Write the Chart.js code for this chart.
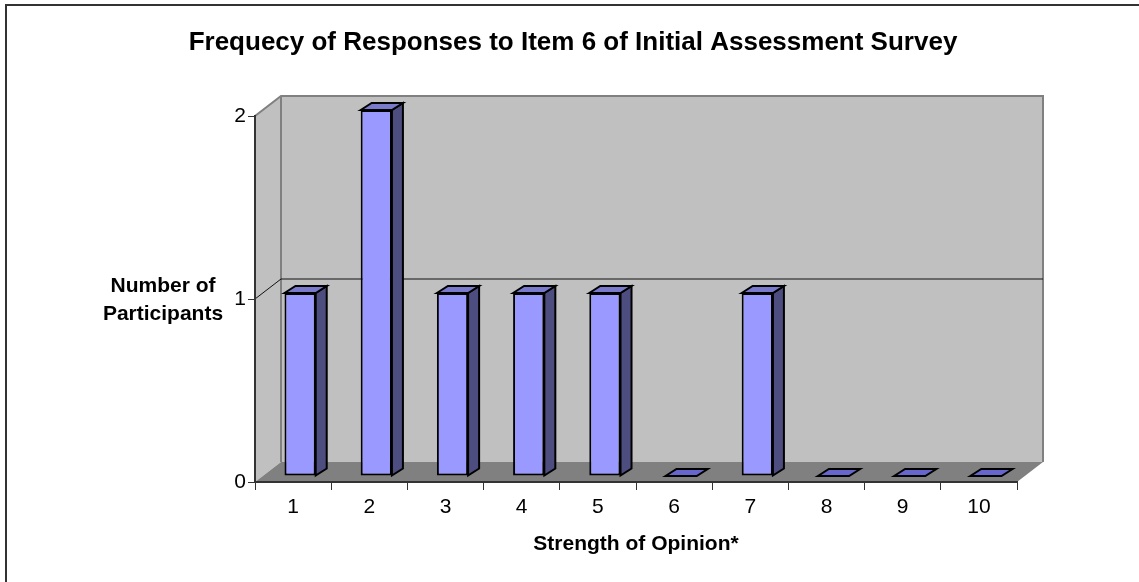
<!DOCTYPE html>
<html>
<head>
<meta charset="utf-8">
<style>
  html, body { margin: 0; padding: 0; background: #fff; }
  #wrap { width: 1139px; height: 582px; }
</style>
<script src="https://cdn.jsdelivr.net/npm/chart.js@4/dist/chart.umd.min.js"></script>
</head>
<body>
<div id="wrap"><canvas id="chart" width="1139" height="582"></canvas></div>
<script>
const categories = ["1", "2", "3", "4", "5", "6", "7", "8", "9", "10"];
const responses = [1, 2, 1, 1, 1, 0, 1, 0, 0, 0];
const yTicks = [0, 1, 2];
const chartTitle = "Frequecy of Responses to Item 6 of Initial Assessment Survey";
const xAxisTitle = "Strength of Opinion*";
const yAxisTitle = ["Number of", "Participants"];

const fontFamily = "'Liberation Sans', Arial, sans-serif";

// depth of the fake 3D box, and how far the bars sit inside it
const wallDx = 26, wallDy = -20;
const barDx = 7, barDy = -6;
const sideDx = 11, sideDy = -7;

const poly = (ctx, pts, fill, stroke, width) => {
  ctx.beginPath();
  pts.forEach((p, i) => (i ? ctx.lineTo(p[0], p[1]) : ctx.moveTo(p[0], p[1])));
  ctx.closePath();
  if (fill) {
    ctx.fillStyle = fill;
    ctx.fill();
  }
  if (stroke) {
    ctx.strokeStyle = stroke;
    ctx.lineWidth = width || 1;
    ctx.lineJoin = "miter";
    ctx.stroke();
  }
};

const box3d = {
  id: "box3d",
  beforeDraw(chart) {
    const { ctx, chartArea: a, scales } = chart;
    ctx.save();
    // outer frame, only left and top are in the picture
    ctx.strokeStyle = "#333333";
    ctx.lineWidth = 2;
    ctx.beginPath();
    ctx.moveTo(6, 582);
    ctx.lineTo(6, 5);
    ctx.lineTo(1139, 5);
    ctx.stroke();

    const L = a.left, R = a.right, T = a.top, B = a.bottom;
    // side wall, back wall, floor
    poly(ctx, [[L, B], [L, T], [L + wallDx, T + wallDy], [L + wallDx, B + wallDy]], "#c0c0c0");
    poly(ctx, [[L + wallDx, T + wallDy], [R + wallDx, T + wallDy], [R + wallDx, B + wallDy], [L + wallDx, B + wallDy]], "#c0c0c0");
    poly(ctx, [[L, B], [R, B], [R + wallDx, B + wallDy], [L + wallDx, B + wallDy]], "#808080");

    ctx.strokeStyle = "#808080";
    ctx.lineWidth = 2;
    ctx.beginPath();
    ctx.moveTo(L, T);
    ctx.lineTo(L + wallDx, T + wallDy);
    ctx.lineTo(R + wallDx, T + wallDy);
    ctx.lineTo(R + wallDx, B + wallDy);
    ctx.moveTo(L + wallDx, T + wallDy);
    ctx.lineTo(L + wallDx, B + wallDy);
    ctx.stroke();

    // gridline for the middle tick wraps round the side and back wall
    const gy = scales.y.getPixelForValue(1);
    ctx.strokeStyle = "#111111";
    ctx.lineWidth = 1;
    ctx.beginPath();
    ctx.moveTo(L, gy);
    ctx.lineTo(L + wallDx, gy + wallDy);
    ctx.lineTo(R + wallDx, gy + wallDy);
    ctx.stroke();
    ctx.restore();
  },
  beforeDatasetsDraw(chart) {
    const { ctx } = chart;
    ctx.save();
    ctx.translate(barDx, barDy);
    // sides and tops come from the bar elements themselves
    chart.getDatasetMeta(0).data.forEach((bar) => {
      const l = bar.x - bar.width / 2, r = bar.x + bar.width / 2;
      const t = bar.y, b = bar.base;
      if (t !== b) {
        poly(ctx, [[r, t], [r + sideDx, t + sideDy], [r + sideDx, b + sideDy], [r, b]], "#4d4d80", "#000", 2);
      }
      poly(ctx, [[l, t], [l + sideDx, t + sideDy], [r + sideDx, t + sideDy], [r, t]], t !== b ? "#7a7acc" : "#6666cc", "#000", 2);
    });
  },
  afterDatasetsDraw(chart) {
    const { ctx, scales } = chart;
    ctx.restore();
    ctx.save();
    ctx.fillStyle = "#000";
    ctx.textAlign = "center";
    ctx.textBaseline = "alphabetic";
    ctx.font = "bold 26px " + fontFamily;
    ctx.fillText(chartTitle, 573, 50);
    ctx.font = "bold 21px " + fontFamily;
    const gy = scales.y.getPixelForValue(1);
    ctx.fillText(yAxisTitle[0], 163, gy - 7);
    ctx.fillText(yAxisTitle[1], 163, gy + 21);
    ctx.restore();
  },
};

new Chart(document.getElementById("chart"), {
  type: "bar",
  data: {
    labels: categories,
    datasets: [
      {
        data: responses,
        backgroundColor: (c) => (responses[c.dataIndex] > 0 ? "#9999ff" : "rgba(0,0,0,0)"),
        borderColor: (c) => (responses[c.dataIndex] > 0 ? "#000000" : "rgba(0,0,0,0)"),
        borderWidth: 2,
        borderSkipped: false,
        categoryPercentage: 1,
        barPercentage: 0.41,
      },
    ],
  },
  plugins: [box3d],
  options: {
    responsive: false,
    animation: false,
    layout: { padding: { left: 0, right: 122, top: 116, bottom: 25 } },
    plugins: {
      legend: { display: false },
      tooltip: { enabled: false },
      title: { display: false },
    },
    scales: {
      x: {
        grid: { offset: true, drawOnChartArea: false, drawTicks: true, tickLength: 8, color: "#333", lineWidth: 1 },
        border: { display: true, color: "#333", width: 2 },
        ticks: { color: "#000", padding: 5, maxRotation: 0, font: { family: fontFamily, size: 21 } },
        title: {
          display: true,
          text: xAxisTitle,
          color: "#000",
          font: { family: fontFamily, size: 21, weight: "bold" },
          padding: { top: 6, bottom: 0 },
        },
        afterFit: (s) => { s.height = 75; },
      },
      y: {
        min: 0,
        max: 2,
        afterBuildTicks: (s) => { s.ticks = yTicks.map((v) => ({ value: v })); },
        grid: { drawOnChartArea: false, drawTicks: true, tickLength: 7, color: "#333", lineWidth: 1 },
        border: { display: true, color: "#333", width: 2 },
        ticks: { color: "#000", padding: 2, font: { family: fontFamily, size: 21 } },
        afterFit: (s) => { s.width = 255; },
      },
    },
  },
});
</script>
</body>
</html>
